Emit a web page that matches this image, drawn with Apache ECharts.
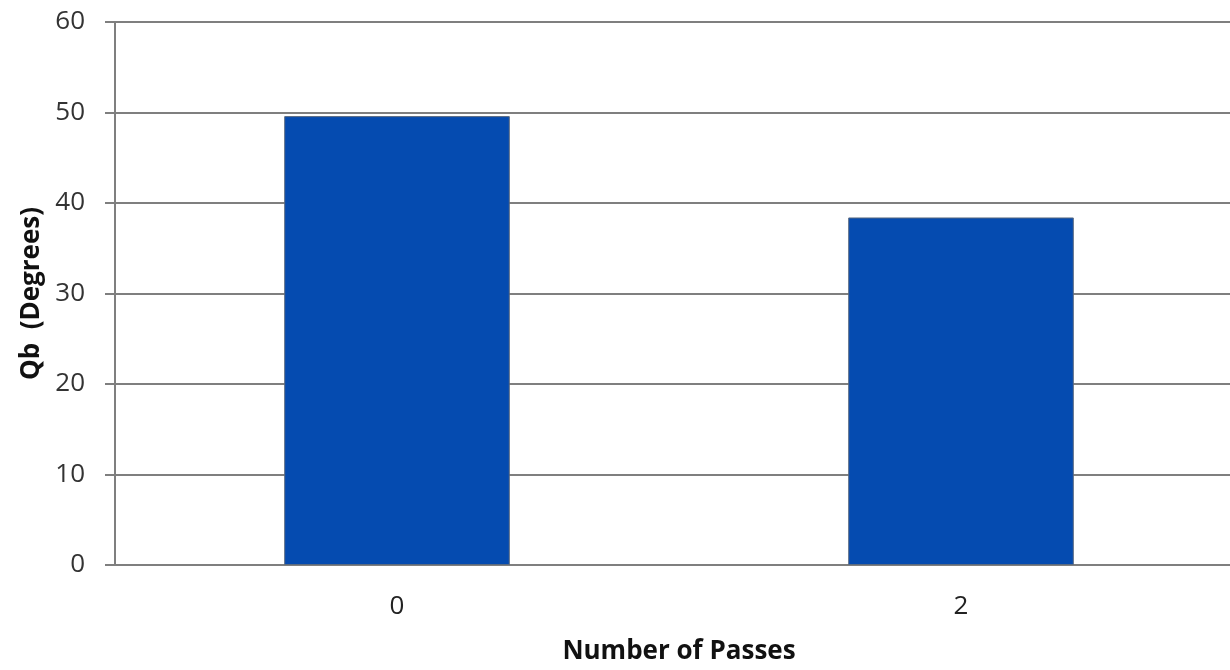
<!DOCTYPE html>
<html>
<head>
<meta charset="utf-8">
<script src="https://cdn.jsdelivr.net/npm/echarts@6/dist/echarts.min.js"></script>
<style>html,body{margin:0;padding:0;background:#fff;overflow:hidden;width:1230px;height:670px;}#c{width:1245px;height:670px;}</style>
</head>
<body>
<div id="c"></div>
<script>
const categories = ['0', '2'];
const qbValues = [49.6, 38.4];
const yTicks = [0, 10, 20, 30, 40, 50, 60];

const chart = echarts.init(document.getElementById('c'));
chart.setOption({
  animation: false,
  backgroundColor: '#fff',
  grid: { left: 115, width: 1128, top: 22, height: 546, containLabel: false },
  xAxis: {
    type: 'category',
    data: categories,
    name: 'Number of Passes',
    nameLocation: 'middle',
    nameGap: 74,
    nameTextStyle: { fontFamily: 'Open Sans', fontWeight: 'bold', fontSize: 26, color: '#111' },
    axisLine: { lineStyle: { color: '#7f7f7f', width: 2 } },
    axisTick: { show: false },
    axisLabel: { fontFamily: 'Open Sans', fontSize: 26, color: '#222', margin: 29 }
  },
  yAxis: {
    type: 'value',
    min: yTicks[0],
    max: yTicks[yTicks.length - 1],
    interval: 10,
    name: 'Qb  (Degrees)',
    nameLocation: 'middle',
    nameGap: 70,
    nameTextStyle: { fontFamily: 'Open Sans', fontWeight: 'bold', fontSize: 26, color: '#111' },
    axisLine: { show: true, lineStyle: { color: '#7f7f7f', width: 2 } },
    axisTick: { show: true, length: 10, lineStyle: { color: '#7f7f7f', width: 2 } },
    axisLabel: { fontFamily: 'Open Sans', fontSize: 26, color: '#333', margin: 30 },
    splitLine: { show: true, lineStyle: { color: '#7f7f7f', width: 2 } }
  },
  series: [{
    type: 'bar',
    data: qbValues,
    barWidth: '40%',
    itemStyle: { color: '#054bb0', borderColor: '#5a6a80', borderWidth: 1 }
  }]
});
</script>
</body>
</html>
